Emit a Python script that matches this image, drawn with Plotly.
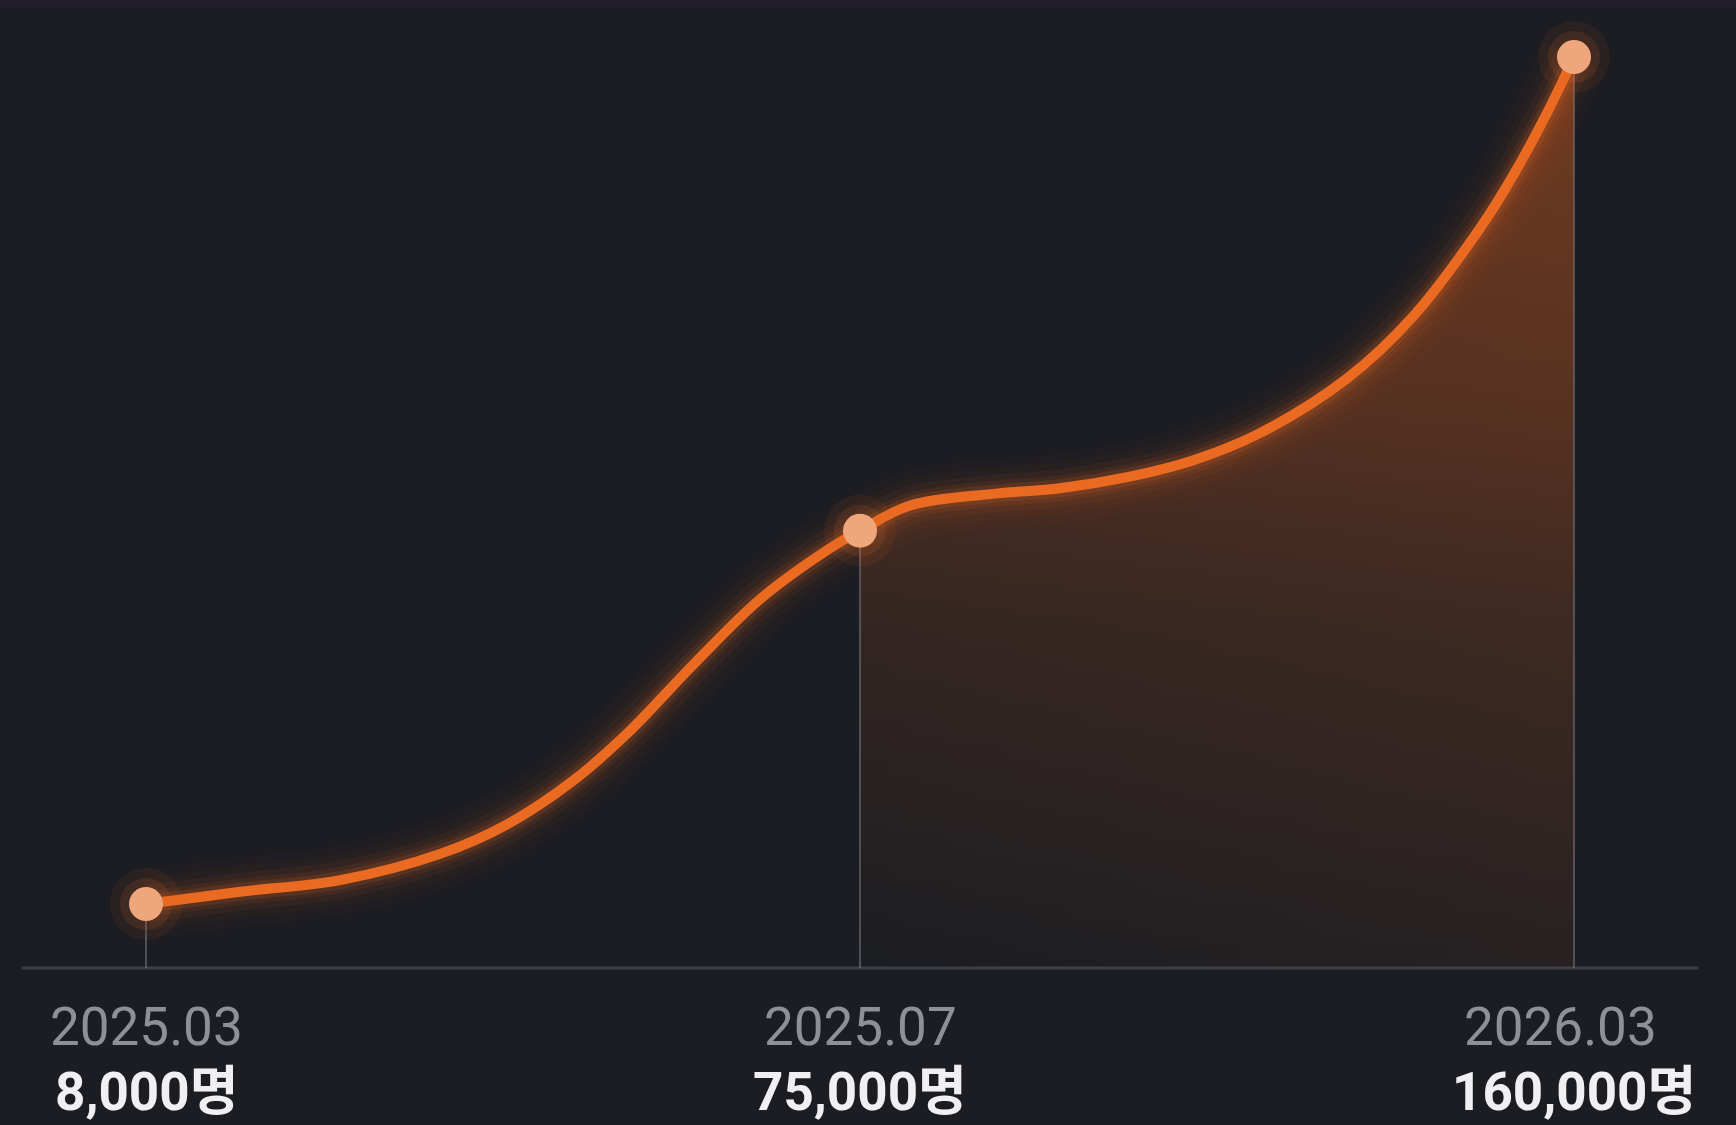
import plotly.graph_objects as go

# ---------------- data ----------------
dates = ["2025.03", "2025.07", "2026.03"]
users = [8000, 75000, 160000]
value_labels = ["8,000명", "75,000명", "160,000명"]

# smooth growth curve (position index, users)
curve_pos = [0.0, 0.132, 0.272, 0.412, 0.506, 0.598, 0.674, 0.766, 0.860, 0.954, 1.0,
             1.070, 1.186, 1.280, 1.374, 1.466, 1.560, 1.682, 1.775, 1.868, 1.915, 1.962, 2.0]
curve_users = [8000, 10200, 12300, 17000, 22300, 30100, 38600, 50900, 62700, 71500, 75000,
               79500, 81600, 82600, 84600, 87600, 92500, 102300, 113500, 129200, 138800, 149900, 160000]

# ---------------- style / layout ----------------
W, H = 1736, 1125
BG = "#1b1d22"
ORANGE = "#ea6a22"
X_RANGE = [-0.2045, 2.2269]
Y_RANGE = [-31660, 170229]
Y_FLOOR = -3485          # value at the baseline line
BASE_PAPER_Y = 1 - 968 / H

fig = go.Figure()

# shaded area only under the second segment (2025.07 -> 2026.03)
seg_start = curve_pos.index(1.0)
seg_x = curve_pos[seg_start:]
seg_y = curve_users[seg_start:]

for kind, scale, start, stop in [
    ("vertical", [[0, "rgba(232,100,30,0.0)"], [0.18, "rgba(232,100,30,0.06)"],
                  [0.38, "rgba(232,100,30,0.12)"], [0.62, "rgba(232,100,30,0.25)"],
                  [1, "rgba(232,100,30,0.38)"]], Y_FLOOR, users[-1]),
    ("horizontal", [[0, "rgba(232,100,30,0.0)"], [1, "rgba(232,100,30,0.06)"]], 1, 2),
]:
    fig.add_trace(go.Scatter(x=[seg_x[0], seg_x[-1]], y=[Y_FLOOR, Y_FLOOR], mode="lines",
                             line=dict(width=0, color="rgba(0,0,0,0)"), hoverinfo="skip",
                             showlegend=False))
    fig.add_trace(go.Scatter(x=seg_x, y=seg_y, mode="lines", line_shape="spline",
                             line=dict(width=0, color="rgba(0,0,0,0)"), fill="tonexty",
                             fillgradient=dict(type=kind, colorscale=scale, start=start, stop=stop),
                             hoverinfo="skip", showlegend=False))

# drop lines
for i, u in enumerate(users):
    fig.add_trace(go.Scatter(x=[i, i], y=[u, Y_FLOOR], mode="lines",
                             line=dict(color="rgba(120,120,130,0.55)", width=2),
                             hoverinfo="skip", showlegend=False))

# glow layers
for w, a in [(70, 0.025), (52, 0.04), (38, 0.06), (26, 0.09), (18, 0.14)]:
    fig.add_trace(go.Scatter(x=curve_pos, y=curve_users, mode="lines", line_shape="spline",
                             line=dict(color=f"rgba(234,106,34,{a})", width=w),
                             hoverinfo="skip", showlegend=False))
# main line
fig.add_trace(go.Scatter(x=curve_pos, y=curve_users, mode="lines", line_shape="spline",
                         line=dict(color=ORANGE, width=10), hoverinfo="skip", showlegend=False))

# marker halos and markers
x_idx = list(range(len(users)))
fig.add_trace(go.Scatter(x=x_idx, y=users, mode="markers",
                         marker=dict(size=72, color="rgba(234,106,34,0.08)", line=dict(width=0)),
                         hoverinfo="skip", showlegend=False))
fig.add_trace(go.Scatter(x=x_idx, y=users, mode="markers",
                         marker=dict(size=52, color="rgba(234,106,34,0.12)", line=dict(width=0)),
                         hoverinfo="skip", showlegend=False))
fig.add_trace(go.Scatter(x=x_idx, y=users, mode="markers",
                         marker=dict(size=34, color="#f0a67c", line=dict(width=0)),
                         hoverinfo="skip", showlegend=False))

# labels
x_shift = [0, 0, -14]
annotations = []
for i, (d, v) in enumerate(zip(dates, value_labels)):
    annotations.append(dict(x=i, y=1 - 1027 / H, xref="x", yref="paper", text=d, showarrow=False,
                            xanchor="center", yanchor="middle", xshift=x_shift[i],
                            font=dict(family="Roboto, 'Noto Sans CJK KR'", size=53, color="#8f9096")))
    annotations.append(dict(x=i, y=0, xref="x", yref="paper", text=v, showarrow=False,
                            xanchor="center", yanchor="bottom",
                            font=dict(family="Roboto, 'Noto Sans CJK KR'", size=53, color="#f0f0f2",
                                      weight=700)))

shapes = [
    dict(type="rect", xref="paper", yref="paper", x0=0, x1=1, y0=1 - 8 / H, y1=1,
         fillcolor="#211e29", line=dict(width=0), layer="below"),
    dict(type="line", xref="paper", yref="paper", x0=22 / W, x1=1698 / W, y0=BASE_PAPER_Y, y1=BASE_PAPER_Y,
         line=dict(color="#3d3f46", width=3), layer="below"),
]

fig.update_layout(
    width=W, height=H, margin=dict(l=0, r=0, t=0, b=0),
    paper_bgcolor=BG, plot_bgcolor=BG, showlegend=False, hovermode=False,
    xaxis=dict(range=X_RANGE, visible=False, fixedrange=True),
    yaxis=dict(range=Y_RANGE, visible=False, fixedrange=True),
    annotations=annotations, shapes=shapes,
)

fig.write_html(
    "out.html",
    config={"displayModeBar": False},
    post_script="document.body.style.margin='0';document.body.style.background='#1b1d22';"
                "document.body.style.overflow='hidden';",
)
